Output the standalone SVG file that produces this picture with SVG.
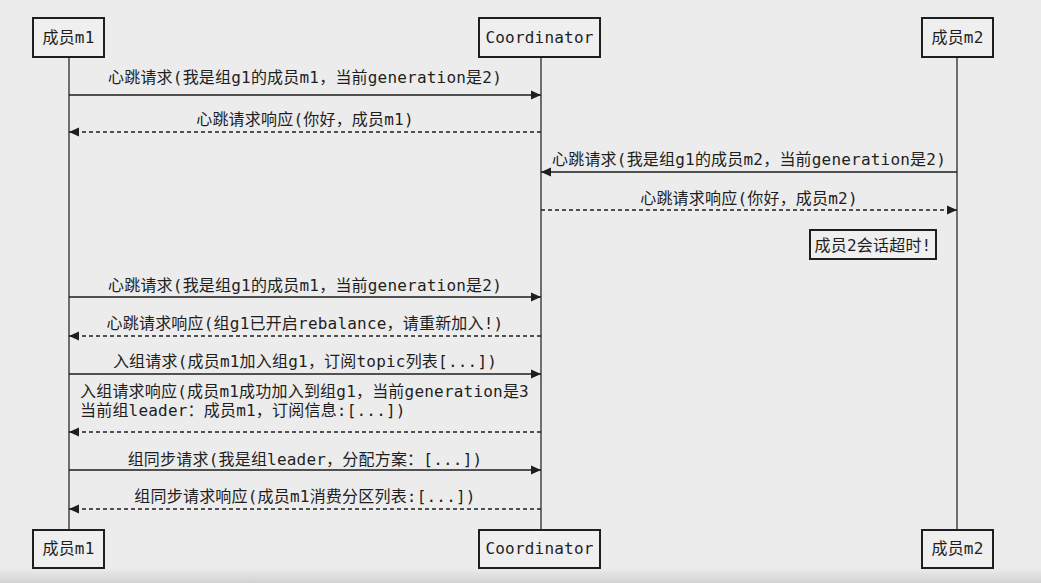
<svg xmlns="http://www.w3.org/2000/svg" width="1041" height="583" viewBox="0 0 1041 583">
<defs>
<style>
.t{font-family:"DejaVu Sans Mono","Noto Sans CJK SC",monospace;font-size:16px;fill:#1e1e1e;letter-spacing:0.2px}
.c{text-anchor:middle}
.box{fill:#efefef;stroke:#1e1e1e;stroke-width:2}
.life{stroke:#2a2a2a;stroke-width:1.3;fill:none}
.msg{stroke:#1e1e1e;stroke-width:1.6;fill:none}
.dash{stroke-dasharray:4 3}
</style>
<marker id="ah" markerWidth="11" markerHeight="10" refX="10" refY="5" orient="auto" markerUnits="userSpaceOnUse">
<path d="M0,0.5 L10,5 L0,9.5 Z" fill="#1e1e1e"/>
</marker>
<linearGradient id="bot" x1="0" y1="0" x2="0" y2="1">
<stop offset="0" stop-color="#ececec"/>
<stop offset="1" stop-color="#d2d2d2"/>
</linearGradient>
</defs>
<rect x="0" y="0" width="1041" height="583" fill="#ececec"/>
<rect x="0" y="568" width="1041" height="15" fill="url(#bot)"/>

<g id="lifelines">
<line class="life" x1="69" y1="57" x2="69" y2="530"/>
<line class="life" x1="541" y1="57" x2="541" y2="530"/>
<line class="life" x1="957" y1="57" x2="957" y2="530"/>
</g>

<g id="m1-top"><rect class="box" x="33" y="18" width="71" height="39"/><text class="t c" x="68.5" y="43">成员m1</text></g>
<g id="coord-top"><rect class="box" x="479" y="18" width="121" height="39"/><text class="t c" x="539.5" y="43">Coordinator</text></g>
<g id="m2-top"><rect class="box" x="922" y="18" width="71" height="39"/><text class="t c" x="957.5" y="43">成员m2</text></g>

<g id="m1-bottom"><rect class="box" x="33" y="530" width="71" height="38"/><text class="t c" x="68.5" y="554">成员m1</text></g>
<g id="coord-bottom"><rect class="box" x="479" y="530" width="121" height="38"/><text class="t c" x="539.5" y="554">Coordinator</text></g>
<g id="m2-bottom"><rect class="box" x="922" y="530" width="71" height="38"/><text class="t c" x="957.5" y="554">成员m2</text></g>

<g id="note"><rect x="810" y="230" width="126" height="29" fill="#efefef" stroke="#1e1e1e" stroke-width="2"/><text class="t c" x="873" y="251">成员2会话超时!</text></g>

<g id="connectors">
<line class="msg" x1="69" y1="95" x2="541" y2="95" marker-end="url(#ah)"/>
<line class="msg dash" x1="541" y1="132" x2="69" y2="132" marker-end="url(#ah)"/>
<line class="msg" x1="957" y1="172" x2="541" y2="172" marker-end="url(#ah)"/>
<line class="msg dash" x1="541" y1="210" x2="957" y2="210" marker-end="url(#ah)"/>
<line class="msg" x1="69" y1="297" x2="541" y2="297" marker-end="url(#ah)"/>
<line class="msg dash" x1="541" y1="336" x2="69" y2="336" marker-end="url(#ah)"/>
<line class="msg" x1="69" y1="374" x2="541" y2="374" marker-end="url(#ah)"/>
<line class="msg dash" x1="541" y1="432" x2="69" y2="432" marker-end="url(#ah)"/>
<line class="msg" x1="69" y1="470" x2="541" y2="470" marker-end="url(#ah)"/>
<line class="msg dash" x1="541" y1="509" x2="69" y2="509" marker-end="url(#ah)"/>
</g>

<g id="labels">
<text class="t c" x="305" y="83">心跳请求(我是组g1的成员m1，当前generation是2)</text>
<text class="t c" x="305" y="125">心跳请求响应(你好，成员m1)</text>
<text class="t c" x="749" y="165">心跳请求(我是组g1的成员m2，当前generation是2)</text>
<text class="t c" x="749" y="204">心跳请求响应(你好，成员m2)</text>
<text class="t c" x="305" y="291">心跳请求(我是组g1的成员m1，当前generation是2)</text>
<text class="t c" x="305" y="329">心跳请求响应(组g1已开启rebalance，请重新加入!)</text>
<text class="t c" x="305" y="367">入组请求(成员m1加入组g1，订阅topic列表[...])</text>
<text class="t" x="80" y="397">入组请求响应(成员m1成功加入到组g1，当前generation是3</text>
<text class="t" x="80" y="416">当前组leader：成员m1，订阅信息:[...])</text>
<text class="t c" x="305" y="465">组同步请求(我是组leader，分配方案：[...])</text>
<text class="t c" x="305" y="502">组同步请求响应(成员m1消费分区列表:[...])</text>
</g>
</svg>
